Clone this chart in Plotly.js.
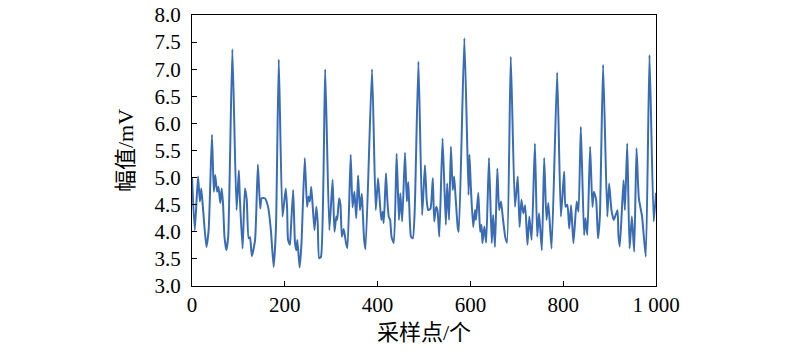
<!DOCTYPE html>
<html>
<head>
<meta charset="utf-8">
<script src="https://cdn.plot.ly/plotly-3.0.1.min.js"></script>
<style>html,body{margin:0;padding:0;background:#fff;}#chart{width:800px;height:351px;}</style>
</head>
<body>
<div id="chart"></div>
<script>
// Sample index (采样点)
const sampleIndex = [0,6,13,17,20,24,31,36,43,47,50,54,57,61,64,67,70,74,78,87,96,101,103,109,114,118,122,125,129,136,142,147,150,157,164,170,176,181,187,195,202,205,207,211,213,218,222,225,227,232,236,243,248,251,254,257,260,264,268,271,274,278,287,296,303,307,311,313,317,320,323,327,332,335,342,346,350,354,358,362,366,368,371,374,388,396,401,404,408,411,413,415,418,421,424,427,430,435,441,446,449,453,459,463,466,468,472,476,480,488,496,502,506,509,514,519,522,526,529,533,540,547,550,554,558,562,565,568,573,575,587,596,598,601,606,610,612,617,621,624,626,630,634,640,646,649,653,658,662,666,670,675,679,687,696,702,706,710,714,718,723,727,732,739,744,748,754,759,764,768,775,787,795,802,805,809,813,817,822,829,833,838,845,848,852,858,863,866,871,875,879,886,895,899,904,909,917,919,922,930,933,938,943,948,953,958,963,970,978,986,995,1000];
// Amplitude (幅值, mV)
const amplitude = [5.00,4.03,5.02,4.56,4.80,4.40,3.72,4.05,5.79,4.74,5.05,4.74,4.83,4.53,4.80,4.50,3.91,3.66,3.91,7.37,4.40,5.13,4.65,3.69,4.80,4.59,3.88,3.90,3.55,3.85,5.24,4.43,4.62,4.62,4.46,4.03,3.35,4.09,7.18,4.28,4.80,4.43,3.85,3.76,4.03,4.77,3.79,3.66,3.85,3.34,3.79,5.36,4.46,4.65,4.56,4.83,4.49,4.03,4.46,4.16,3.51,3.54,7.00,4.03,4.96,4.00,4.28,4.22,4.62,4.50,3.91,4.05,3.79,3.70,5.42,4.45,4.74,4.25,5.04,4.40,4.70,4.37,3.85,3.68,7.00,4.40,4.99,4.65,4.22,4.37,4.16,4.46,5.08,4.59,4.28,4.22,3.91,3.79,5.44,4.22,4.71,4.19,5.46,4.56,4.92,4.53,3.91,3.88,4.40,7.14,4.31,5.23,4.56,4.40,4.43,4.99,4.19,4.46,4.40,3.91,5.72,4.13,4.89,4.22,5.57,4.77,5.02,4.65,4.06,4.00,7.57,4.68,5.42,4.83,4.09,4.40,4.22,4.72,4.00,4.13,3.79,4.10,3.80,5.36,3.79,4.31,3.72,5.17,4.40,4.56,4.25,3.91,3.80,7.23,4.46,5.02,4.09,4.59,4.34,4.49,3.76,4.28,3.85,5.63,3.91,4.34,3.66,5.36,4.22,4.53,3.69,6.94,4.28,5.11,4.46,4.50,4.06,4.49,3.79,4.56,4.37,5.94,3.94,4.25,3.94,5.57,4.46,4.74,4.59,3.88,4.28,7.08,4.28,4.89,4.40,4.22,4.40,3.94,3.73,4.95,4.40,5.63,3.69,4.28,3.63,5.54,4.62,4.28,3.54,7.26,4.19,4.72];

const xTickVals = [0,200,400,600,800,1000];
const xTickText = ['0','200','400','600','800','1 000'];
const yTickVals = [3.0,3.5,4.0,4.5,5.0,5.5,6.0,6.5,7.0,7.5,8.0];
const yTickText = ['3.0','3.5','4.0','4.5','5.0','5.5','6.0','6.5','7.0','7.5','8.0'];
const xTitle = '采样点/个';
const yTitle = '幅值/mV';

const serif = '"Liberation Serif", "Times New Roman", "Noto Sans CJK SC", serif';

const trace = {
  x: sampleIndex, y: amplitude, type: 'scatter', mode: 'lines',
  line: {color: '#3a6cb6', width: 2, shape: 'spline', smoothing: 0.5}, hoverinfo: 'skip'
};

const layout = {
  width: 800, height: 351,
  margin: {l: 192, r: 144, t: 15, b: 65, pad: 0},
  paper_bgcolor: '#ffffff', plot_bgcolor: '#ffffff',
  showlegend: false,
  font: {family: serif, color: '#000', size: 21},
  xaxis: {
    range: [0, 1000], tickmode: 'array', tickvals: xTickVals, ticktext: xTickText,
    ticks: 'inside', ticklen: 5, tickwidth: 1, tickcolor: '#000',
    showline: true, linecolor: '#000', linewidth: 1, mirror: true,
    showgrid: false, zeroline: false,
    tickfont: {family: serif, size: 21, color: '#000'},
    title: {text: xTitle, font: {family: serif, size: 22, color: '#000'}, standoff: 8}
  },
  yaxis: {
    range: [3, 8], tickmode: 'array', tickvals: yTickVals, ticktext: yTickText,
    ticks: 'inside', ticklen: 5, tickwidth: 1, tickcolor: '#000',
    showline: true, linecolor: '#000', linewidth: 1, mirror: true,
    showgrid: false, zeroline: false,
    tickfont: {family: serif, size: 21, color: '#000'},
    ticklabelstandoff: 6,
    title: {text: yTitle, font: {family: serif, size: 22, color: '#000'}, standoff: 14}
  }
};

Plotly.newPlot('chart', [trace], layout, {staticPlot: true, displayModeBar: false});
</script>
</body>
</html>
